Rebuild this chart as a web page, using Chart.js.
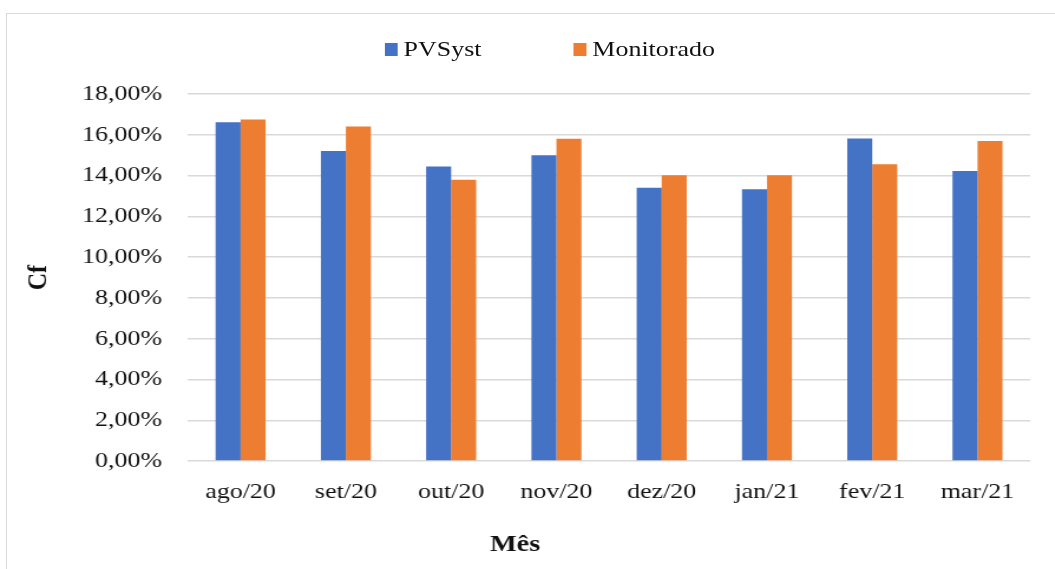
<!DOCTYPE html>
<html>
<head>
<meta charset="utf-8">
<script src="https://cdn.jsdelivr.net/npm/chart.js@4/dist/chart.umd.min.js"></script>
<style>
  html, body { margin: 0; padding: 0; background: #fff; overflow: hidden; width: 1055px; height: 569px; }
  #frame { position: absolute; left: 6px; top: 13px; width: 1200px; height: 700px; border-left: 1px solid #d9d9d9; border-top: 1px solid #d9d9d9; }
  #stage { position: absolute; left: 0; top: 0; width: 894px; height: 569px; transform: scaleX(1.18); transform-origin: 0 0; }
  #salesChart { position: absolute; left: 0; top: 0; }
  .lg-box { position: absolute; width: 11px; height: 13px; }
  .lg-txt { position: absolute; font-family: 'Liberation Serif', serif; font-size: 22px; line-height: 22px; color: #111; white-space: nowrap; }
</style>
</head>
<body>
<div id="frame"></div>
<div id="stage">
  <canvas id="salesChart" width="894" height="569"></canvas>
  <div class="lg-box" style="left:326px;top:43px;background:#4472C4"></div>
  <div class="lg-txt" style="left:342px;top:38px">PVSyst</div>
  <div class="lg-box" style="left:486px;top:43px;background:#ED7D31"></div>
  <div class="lg-txt" style="left:502px;top:38px">Monitorado</div>
</div>
<script>
const meses = ['ago/20', 'set/20', 'out/20', 'nov/20', 'dez/20', 'jan/21', 'fev/21', 'mar/21'];
const pvsyst = [16.62, 15.21, 14.44, 15.00, 13.40, 13.33, 15.82, 14.23];
const monitorado = [16.75, 16.41, 13.79, 15.80, 14.02, 14.02, 14.56, 15.69];
const yTickLabels = ['0,00%', '2,00%', '4,00%', '6,00%', '8,00%', '10,00%', '12,00%', '14,00%', '16,00%', '18,00%'];

const serif = 'Liberation Serif';
const ctx = document.getElementById('salesChart').getContext('2d');

// x title goes through the title plugin so it is centred on the whole chart, like the original
window.cfChart = new Chart(ctx, {
  type: 'bar',
  data: {
    labels: meses,
    datasets: [
      { label: 'PVSyst', data: pvsyst, backgroundColor: '#4472C4', barPercentage: 1, categoryPercentage: 0.475 },
      { label: 'Monitorado', data: monitorado, backgroundColor: '#ED7D31', barPercentage: 1, categoryPercentage: 0.475 }
    ]
  },
  options: {
    responsive: false,
    animation: false,
    layout: { padding: { top: 94, right: 21, bottom: 0, left: 0 } },
    plugins: {
      legend: { display: false },
      tooltip: { enabled: false },
      title: { display: true, position: 'bottom', text: 'Mês', color: '#111', font: { family: serif, size: 24, weight: 'bold' }, padding: { top: 0, bottom: 10 } }
    },
    scales: {
      x: {
        grid: { display: false, drawTicks: false },
        border: { display: false },
        ticks: { color: '#111', font: { family: serif, size: 22 }, padding: 18, maxRotation: 0 },
        afterFit: function(scale) { scale.height = 69.1; }
      },
      y: {
        min: 0, max: 18,
        grid: { color: '#d9d9d9', lineWidth: 1.5, drawTicks: false },
        border: { display: false },
        ticks: {
          stepSize: 2, padding: 22, color: '#111', font: { family: serif, size: 22 },
          callback: function(v, i) { return yTickLabels[i]; }
        },
        title: { display: true, text: 'Cf', color: '#111', font: { family: serif, size: 24, weight: 'bold' }, padding: { top: 18, bottom: 0 } },
        afterFit: function(scale) { scale.width = 159.3; }
      }
    }
  }
});
</script>
</body>
</html>
